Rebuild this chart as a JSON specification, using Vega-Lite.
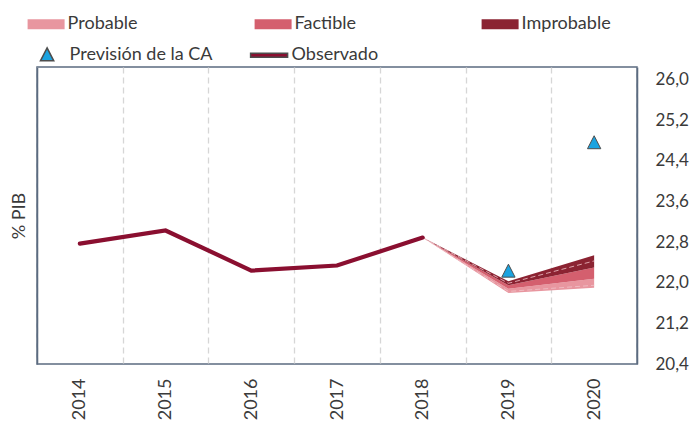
{
  "$schema": "https://vega.github.io/schema/vega-lite/v6.json",
  "width": 600,
  "height": 297,
  "autosize": {"type": "none"},
  "padding": {"left": 37, "top": 67, "right": 58, "bottom": 57},
  "background": "white",
  "config": {
    "font": "Lato",
    "view": {"stroke": "#5b6b80", "strokeWidth": 1.5},
    "axis": {"labelFont": "Lato", "titleFont": "Lato", "labelColor": "#3a3a3a", "titleColor": "#3a3a3a", "labelFontSize": 17, "titleFontSize": 18, "titleFontWeight": "normal", "domain": false, "ticks": false},
    "legend": {"labelFont": "Lato", "labelFontSize": 18, "labelColor": "#3a3a3a", "padding": 0, "labelOffset": 3, "title": null}
  },
  "layer": [
    {
      "data": {"values": [
        {"anio": 2018, "banda": "Probable", "lo": 22.89, "hi": 22.89},
        {"anio": 2019, "banda": "Probable", "lo": 21.80, "hi": 21.88},
        {"anio": 2020, "banda": "Probable", "lo": 21.90, "hi": 22.08},
        {"anio": 2018, "banda": "Factible", "lo": 22.89, "hi": 22.89},
        {"anio": 2019, "banda": "Factible", "lo": 21.88, "hi": 21.95},
        {"anio": 2020, "banda": "Factible", "lo": 22.08, "hi": 22.30},
        {"anio": 2018, "banda": "Improbable", "lo": 22.89, "hi": 22.89},
        {"anio": 2019, "banda": "Improbable", "lo": 21.95, "hi": 22.03},
        {"anio": 2020, "banda": "Improbable", "lo": 22.30, "hi": 22.54}
      ]},
      "mark": {"type": "area", "interpolate": "linear"},
      "encoding": {
        "x": {"field": "anio", "type": "ordinal", "bandPosition": 0.5,
          "scale": {"type": "band", "domain": [2014, 2015, 2016, 2017, 2018, 2019, 2020], "paddingInner": 0, "paddingOuter": 0},
          "axis": {"title": null, "labelAngle": -90, "labelPadding": 14, "labelFontSize": 18, "grid": true, "gridDash": [6, 4], "gridColor": "#d6d6d6", "gridWidth": 1.3, "tickBand": "extent", "zindex": 0}},
        "y": {"field": "lo", "type": "quantitative",
          "scale": {"domain": [20.4, 26.25], "nice": false, "zero": false},
          "axis": {"orient": "left", "title": "% PIB", "labels": false, "grid": false, "titlePadding": 9, "domain": true, "domainColor": "#5b6b80", "domainWidth": 1.5, "zindex": 1}},
        "y2": {"field": "hi"},
        "fill": {"field": "banda", "type": "nominal",
          "scale": {"domain": ["Probable", "Factible", "Improbable"], "range": ["#e8969f", "#d45f6e", "#8b2332"]},
          "legend": {"orient": "none", "legendX": -9.4, "legendY": -61.5, "direction": "horizontal", "columns": 3, "gridAlign": "all", "columnPadding": 97, "symbolType": "M-1,-0.27H1V0.27H-1Z", "symbolSize": 1369, "symbolStrokeWidth": 0}}
      }
    },
    {
      "data": {"values": [
        {"anio": 2018, "linea": "a", "v": 22.89},
        {"anio": 2019, "linea": "a", "v": 21.99},
        {"anio": 2020, "linea": "a", "v": 22.43},
        {"anio": 2018, "linea": "b", "v": 22.89},
        {"anio": 2019, "linea": "b", "v": 21.83},
        {"anio": 2020, "linea": "b", "v": 21.95}
      ]},
      "mark": {"type": "line", "color": "#f0c2c8", "strokeWidth": 1, "strokeDash": [5, 3], "opacity": 0.8},
      "encoding": {
        "x": {"field": "anio", "type": "ordinal", "bandPosition": 0.5},
        "y": {"field": "v", "type": "quantitative", "axis": null},
        "detail": {"field": "linea"}
      }
    },
    {
      "data": {"values": [
        {"anio": 2014, "v": 22.77},
        {"anio": 2015, "v": 23.03},
        {"anio": 2016, "v": 22.24},
        {"anio": 2017, "v": 22.34},
        {"anio": 2018, "v": 22.89}
      ]},
      "mark": {"type": "line", "color": "#8a0f30", "strokeWidth": 4.2, "strokeCap": "round", "strokeJoin": "miter"},
      "encoding": {
        "x": {"field": "anio", "type": "ordinal", "bandPosition": 0.5},
        "y": {"field": "v", "type": "quantitative",
          "axis": {"orient": "right", "title": null, "grid": false, "labelPadding": 18, "domain": true, "domainColor": "#5b6b80", "domainWidth": 1.5, "zindex": 1, "values": [20.4, 21.2, 22.0, 22.8, 23.6, 24.4, 25.2, 26.0], "labelExpr": "replace(format(datum.value, '.1f'), '.', ',')"}}
      }
    },
    {
      "data": {"values": [
        {"anio": 2019, "serie": "Previsión de la CA", "v": 22.22},
        {"anio": 2020, "serie": "Previsión de la CA", "v": 24.75}
      ]},
      "mark": {"type": "point", "filled": true, "stroke": "#4d4d4d", "strokeWidth": 1, "opacity": 1, "size": 1369},
      "encoding": {
        "x": {"field": "anio", "type": "ordinal", "bandPosition": 0.5},
        "y": {"field": "v", "type": "quantitative", "axis": null},
        "shape": {"field": "serie", "type": "nominal",
          "scale": {"domain": ["Previsión de la CA", "Observado"], "range": ["M0,-0.4L0.36,0.3L-0.36,0.3Z", "M-1,-0.11H1V0.11H-1Z"]},
          "legend": {"orient": "none", "legendX": -9.4, "legendY": -31.5, "direction": "horizontal", "columns": 2, "columnPadding": 35, "symbolSize": 1369}},
        "color": {"field": "serie", "type": "nominal",
          "scale": {"domain": ["Previsión de la CA", "Observado"], "range": ["#1ba3e0", "#8a0f30"]}}
      }
    }
  ],
  "resolve": {"axis": {"y": "independent"}}
}
